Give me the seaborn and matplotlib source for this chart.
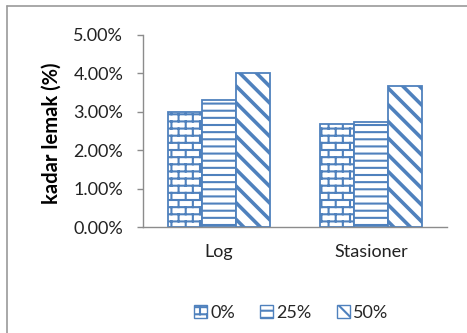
import pandas as pd
import numpy as np
import matplotlib as mpl
mpl.use("Agg")
import matplotlib.pyplot as plt
import seaborn as sns
from matplotlib import hatch as mhatch
from matplotlib.path import Path
from matplotlib.lines import Line2D
from matplotlib.ticker import FuncFormatter

# data
phases = ["Log", "Stasioner"]
levels = ["0%", "25%", "50%"]
fat_0 = [3.00, 2.67]
fat_25 = [3.32, 2.73]
fat_50 = [4.00, 3.67]

BLUE = "#4F81BD"
HATCHES = {"0%": "|", "25%": "--", "50%": "\\\\"}


# brick hatch (Excel style) -- takes the place of the plain vertical "|" hatch
class BrickHatch(mhatch.HatchPatternBase):
    def __init__(self, hatch, density):
        c = hatch.count("|")
        self.rows = 14 * c
        self.bricks = 7 * c
        if c:
            half = self.rows // 2
            n_vert = half * (self.bricks + 1) + half * self.bricks
            self.num_vertices = 2 * (self.rows + 1) + 2 * n_vert
        else:
            self.num_vertices = 0

    def set_vertices_and_codes(self, vertices, codes):
        n, m = self.rows, self.bricks
        i = 0
        for k in range(n + 1):
            y = k / n
            vertices[i] = (0.0, y)
            vertices[i + 1] = (1.0, y)
            i += 2
        for k in range(n):
            if k % 2 == 0:
                xs = [j / m for j in range(m + 1)]
            else:
                xs = [(j + 0.5) / m for j in range(m)]
            for x in xs:
                vertices[i] = (x, k / n)
                vertices[i + 1] = (x, (k + 1) / n)
                i += 2
        codes[0::2] = Path.MOVETO
        codes[1::2] = Path.LINETO


# slightly denser horizontal lines, like the Excel pattern
class DenseHorizontal(mhatch.HorizontalHatch):
    def __init__(self, hatch, density):
        self.num_lines = int((hatch.count("-") + hatch.count("+")) * 7)
        self.num_vertices = self.num_lines * 2


def _swap(t):
    if t is mhatch.VerticalHatch:
        return BrickHatch
    if t is mhatch.HorizontalHatch:
        return DenseHorizontal
    return t


mhatch._hatch_types = [_swap(t) for t in mhatch._hatch_types]

rows = []
for lvl, vals in zip(levels, [fat_0, fat_25, fat_50]):
    for ph, v in zip(phases, vals):
        rows.append({"fase": ph, "level": lvl, "lemak": v})
df = pd.DataFrame(rows)

sns.set_theme(style="white")
plt.rcParams["font.family"] = ["Lato", "DejaVu Sans"]
plt.rcParams["hatch.color"] = BLUE
plt.rcParams["hatch.linewidth"] = 1.5

fig = plt.figure(figsize=(4.67, 3.33), dpi=100)
ax = fig.add_axes([143 / 467, 1 - 227 / 333, 304 / 467, 192 / 333])

sns.barplot(data=df, x="fase", y="lemak", hue="level", order=phases,
            hue_order=levels, palette=["white"] * 3, edgecolor=BLUE,
            linewidth=1.3, width=0.67, ax=ax, legend=False)

for cont, lvl in zip(ax.containers, levels):
    for bar in cont:
        bar.set_hatch(HATCHES[lvl])
        if lvl == "50%" and hasattr(bar, "set_hatch_linewidth"):
            bar.set_hatch_linewidth(2.6)

ax.set_ylim(0, 5)
ax.set_yticks([0, 1, 2, 3, 4, 5])
ax.yaxis.set_major_formatter(FuncFormatter(lambda v, p: f"{v:.2f}%"))
ax.set_xlim(-0.5, 1.5)
ax.set_xlabel("")
ax.set_ylabel("")
fig.text(52 / 467, 1 - 133 / 333, "kadar lemak (%)", rotation=90, ha="center",
         va="center", fontsize=14.5, fontweight="bold", color="black")

for s in ["top", "right"]:
    ax.spines[s].set_visible(False)
for s in ["left", "bottom"]:
    ax.spines[s].set_color("#8c8c8c")
    ax.spines[s].set_linewidth(1.0)
ax.tick_params(axis="y", which="both", left=True, length=4.3, width=1,
               color="#8c8c8c", labelsize=13, labelcolor="#222222", pad=10)
ax.tick_params(axis="x", bottom=False, length=0, labelsize=13,
               labelcolor="#222222", pad=12.5)

# legend
handles = [mpl.patches.Patch(facecolor="white", edgecolor=BLUE, hatch=HATCHES[l],
                             linewidth=1.0) for l in levels]
fig.legend(handles, levels, loc="center", bbox_to_anchor=(291 / 467, 1 - 313 / 333),
           ncol=3, frameon=False, fontsize=13, handlelength=0.72, handleheight=0.72,
           handletextpad=0.17, columnspacing=1.4, borderaxespad=0, borderpad=0)

# chart area frame (top and left edges visible)
fig.add_artist(Line2D([7 / 467, 7 / 467], [0, 1 - 6 / 333], transform=fig.transFigure,
                      color="#9a9a9a", linewidth=1.2))
fig.add_artist(Line2D([7 / 467, 1], [1 - 6 / 333, 1 - 6 / 333], transform=fig.transFigure,
                      color="#9a9a9a", linewidth=1.2))

fig.savefig("out.png", dpi=100)
plt.close(fig)
